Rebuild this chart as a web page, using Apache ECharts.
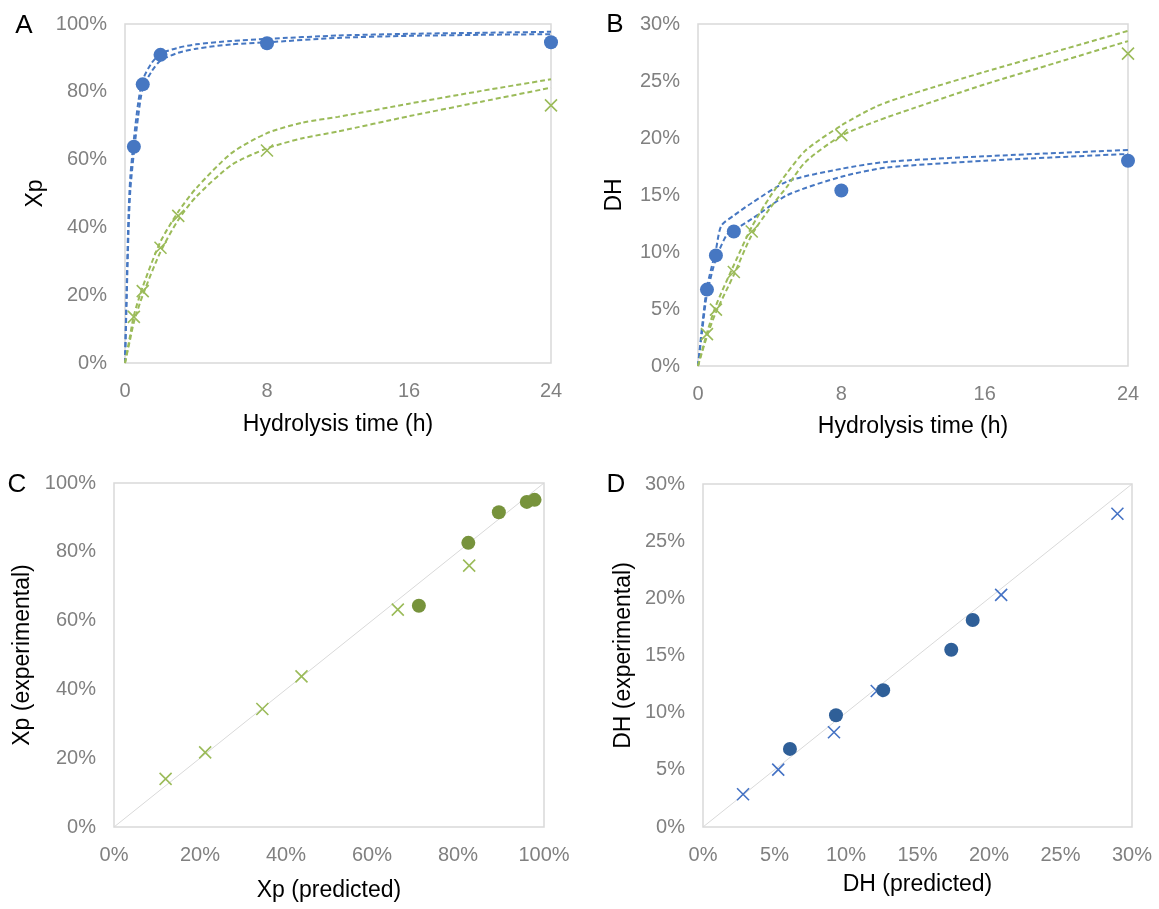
<!DOCTYPE html>
<html>
<head>
<meta charset="utf-8">
<script src="https://cdn.jsdelivr.net/npm/echarts@6/dist/echarts.min.js"></script>
<style>
html,body{margin:0;padding:0;background:#fff;}
#chart{width:1159px;height:909px;}
</style>
</head>
<body>
<div id="chart"></div>
<script>
// ---------- Panel A: Xp vs time ----------
const timeBlue = [0.5, 1, 2, 8, 24];
const timeGreen = [0.5, 1, 2, 3, 8, 24];
const xpBlueExp = [63.8, 82.2, 90.9, 94.3, 94.6];
const xpGreenExp = [13.6, 21.2, 34.0, 43.4, 62.7, 76.0];

const fitTimeBlueA = [0, 0.1, 0.2, 0.3, 0.5, 0.75, 1, 1.5, 2, 3, 4, 6, 8, 12, 16, 20, 24];
const xpBlueFit1 = [0, 24, 44, 55, 66, 77, 83.5, 88.5, 91.2, 93, 94, 95, 95.6, 96.6, 97.1, 97.4, 97.7];
const xpBlueFit2 = [0, 20, 39, 51, 62, 73, 81, 86, 89.2, 91.5, 92.7, 94, 94.6, 95.9, 96.5, 96.8, 97.0];

const fitTimeGreenA = [0, 0.25, 0.5, 1, 2, 3, 4, 6, 8, 10, 12, 16, 20, 24];
const xpGreenFit1 = [0, 7, 14, 22.5, 35.8, 44.6, 51.5, 61.9, 67.8, 70.9, 72.6, 76.5, 80.2, 83.7];
const xpGreenFit2 = [0, 6, 12, 20, 32.8, 42.2, 49, 58.4, 63.3, 66.3, 68.3, 72.8, 77, 81.2];

// ---------- Panel B: DH vs time ----------
const dhBlueExp = [6.7, 9.7, 11.8, 15.4, 18.0];
const dhGreenExp = [2.8, 4.95, 8.25, 11.8, 20.25, 27.4];

const fitTimeBlueB1 = [0, 0.25, 0.5, 1, 1.3, 2, 3, 5, 8, 10.5, 16, 24];
const dhBlueFit1 = [0, 3.8, 6.9, 10.2, 12.3, 13.2, 14.3, 16.2, 17.3, 17.9, 18.4, 18.95];
const fitTimeBlueB2 = [0, 0.25, 0.5, 1, 1.6, 2, 3, 5, 8, 10.5, 16, 24];
const dhBlueFit2 = [0, 3.3, 6.3, 9.4, 11.5, 11.9, 12.9, 15.0, 16.6, 17.4, 18.0, 18.6];

const fitTimeGreenB = [0, 0.5, 1, 2, 3, 4, 5, 6, 8, 10, 12, 16, 20, 24];
const dhGreenFit1 = [0, 2.9, 5.3, 8.85, 12.2, 14.8, 17, 18.9, 21.1, 22.8, 23.9, 25.8, 27.6, 29.4];
const dhGreenFit2 = [0, 2.6, 4.7, 8.0, 11.5, 13.8, 15.8, 17.9, 20.2, 21.5, 22.6, 24.7, 26.6, 28.5];

// ---------- Panel C: Xp predicted vs experimental ----------
const xpCirclePred = [70.9, 82.4, 89.5, 96.0, 97.8];
const xpCircleExp = [64.3, 82.6, 91.5, 94.5, 95.1];
const xpCrossPred = [12.0, 21.2, 34.5, 43.6, 66.0, 82.6];
const xpCrossExp = [14.0, 21.7, 34.3, 43.8, 63.2, 76.0];

// ---------- Panel D: DH predicted vs experimental ----------
const dhCirclePred = [6.08, 9.3, 12.6, 17.36, 18.86];
const dhCircleExp = [6.83, 9.78, 11.97, 15.5, 18.1];
const dhCrossPred = [2.8, 5.26, 9.16, 12.15, 20.85, 28.98];
const dhCrossExp = [2.86, 5.02, 8.29, 11.9, 20.3, 27.4];

// ---------- tick labels ----------
const timeTicks = [0, 8, 16, 24];
const panelLetters = ['A', 'B', 'C', 'D'];

const zip = (a, b) => a.map((v, i) => [v, b[i]]);

const BLUE = '#4677C2';
const GREEN = '#9BBB59';
const DARKGREEN = '#77933C';
const DARKBLUE = '#2F5F98';
const XBLUE = '#4472C4';
const FONT = 'Liberation Sans, Arial, sans-serif';
const CROSS = 'path://M0,0L10,10M10,0L0,10';

function dashed(xi, yi, data, color) {
  return {
    type: 'line', xAxisIndex: xi, yAxisIndex: yi, data: data,
    smooth: 0.25, showSymbol: false, symbol: 'none',
    lineStyle: { color: color, width: 2, type: [5, 3] }, z: 2, silent: true
  };
}
function dots(xi, yi, data, color, size) {
  return {
    type: 'scatter', xAxisIndex: xi, yAxisIndex: yi, data: data,
    symbol: 'circle', symbolSize: size, itemStyle: { color: color, opacity: 1 }, z: 4, silent: true
  };
}
function crosses(xi, yi, data, color) {
  return {
    type: 'scatter', xAxisIndex: xi, yAxisIndex: yi, data: data,
    symbol: CROSS, symbolSize: 12,
    itemStyle: { color: 'none', borderColor: color, borderWidth: 1.6, opacity: 1 }, z: 4, silent: true
  };
}
function diag(xi, yi, max) {
  return {
    type: 'line', xAxisIndex: xi, yAxisIndex: yi, data: [[0, 0], [max, max]],
    showSymbol: false, symbol: 'none', lineStyle: { color: '#D9D9D9', width: 1 }, z: 1, silent: true
  };
}

const tickLabel = { color: '#808080', fontSize: 20, fontFamily: FONT, margin: 18 };
const nameStyle = { color: '#000', fontSize: 23, fontFamily: FONT };

function xAx(gi, min, max, interval, name, gap, pct) {
  return {
    gridIndex: gi, type: 'value', min: min, max: max, interval: interval,
    name: name, nameLocation: 'middle', nameGap: gap, nameTextStyle: nameStyle,
    axisLine: { show: false }, axisTick: { show: false }, splitLine: { show: false },
    axisLabel: Object.assign({}, tickLabel, { formatter: pct ? '{value}%' : '{value}' })
  };
}
function yAx(gi, min, max, interval, name, gap) {
  return {
    gridIndex: gi, type: 'value', min: min, max: max, interval: interval,
    name: name, nameLocation: 'middle', nameGap: gap, nameTextStyle: nameStyle,
    axisLine: { show: false }, axisTick: { show: false }, splitLine: { show: false },
    axisLabel: Object.assign({}, tickLabel, { formatter: '{value}%' })
  };
}

const gridBase = { show: true, borderColor: '#D9D9D9', borderWidth: 1.5, backgroundColor: '#fff', containLabel: false };

const chart = echarts.init(document.getElementById('chart'), null, { renderer: 'canvas' });
const letterPos = [[24, 26], [615, 25], [17, 485], [616, 485]];

chart.setOption({
  animation: false,
  backgroundColor: '#fff',
  graphic: panelLetters.map((t, i) => ({
    type: 'text', x: letterPos[i][0], y: letterPos[i][1],
    style: { text: t, fill: '#000', fontSize: 26, fontFamily: FONT, textAlign: 'center', textVerticalAlign: 'middle' }
  })),
  grid: [
    Object.assign({ left: 125, top: 24, width: 426, height: 339 }, gridBase),
    Object.assign({ left: 698, top: 24, width: 430, height: 342 }, gridBase),
    Object.assign({ left: 114, top: 483, width: 430, height: 344 }, gridBase),
    Object.assign({ left: 703, top: 484, width: 429, height: 343 }, gridBase)
  ],
  xAxis: [
    xAx(0, timeTicks[0], timeTicks[timeTicks.length - 1], timeTicks[1] - timeTicks[0], 'Hydrolysis time (h)', 50, false),
    xAx(1, timeTicks[0], timeTicks[timeTicks.length - 1], timeTicks[1] - timeTicks[0], 'Hydrolysis time (h)', 49, false),
    xAx(2, 0, 100, 20, 'Xp (predicted)', 52, true),
    xAx(3, 0, 30, 5, 'DH (predicted)', 46, true)
  ],
  yAxis: [
    yAx(0, 0, 100, 20, 'Xp', 78),
    yAx(1, 0, 30, 5, 'DH', 72),
    yAx(2, 0, 100, 20, 'Xp (experimental)', 80),
    yAx(3, 0, 30, 5, 'DH (experimental)', 68)
  ],
  series: [
    // A
    dashed(0, 0, zip(fitTimeBlueA, xpBlueFit1), BLUE),
    dashed(0, 0, zip(fitTimeBlueA, xpBlueFit2), BLUE),
    dashed(0, 0, zip(fitTimeGreenA, xpGreenFit1), GREEN),
    dashed(0, 0, zip(fitTimeGreenA, xpGreenFit2), GREEN),
    dots(0, 0, zip(timeBlue, xpBlueExp), BLUE, 14),
    crosses(0, 0, zip(timeGreen, xpGreenExp), GREEN),
    // B
    dashed(1, 1, zip(fitTimeBlueB1, dhBlueFit1), BLUE),
    dashed(1, 1, zip(fitTimeBlueB2, dhBlueFit2), BLUE),
    dashed(1, 1, zip(fitTimeGreenB, dhGreenFit1), GREEN),
    dashed(1, 1, zip(fitTimeGreenB, dhGreenFit2), GREEN),
    dots(1, 1, zip(timeBlue, dhBlueExp), BLUE, 14),
    crosses(1, 1, zip(timeGreen, dhGreenExp), GREEN),
    // C
    diag(2, 2, 100),
    crosses(2, 2, zip(xpCrossPred, xpCrossExp), GREEN),
    dots(2, 2, zip(xpCirclePred, xpCircleExp), DARKGREEN, 14),
    // D
    diag(3, 3, 30),
    crosses(3, 3, zip(dhCrossPred, dhCrossExp), XBLUE),
    dots(3, 3, zip(dhCirclePred, dhCircleExp), DARKBLUE, 14)
  ]
});
</script>
</body>
</html>
